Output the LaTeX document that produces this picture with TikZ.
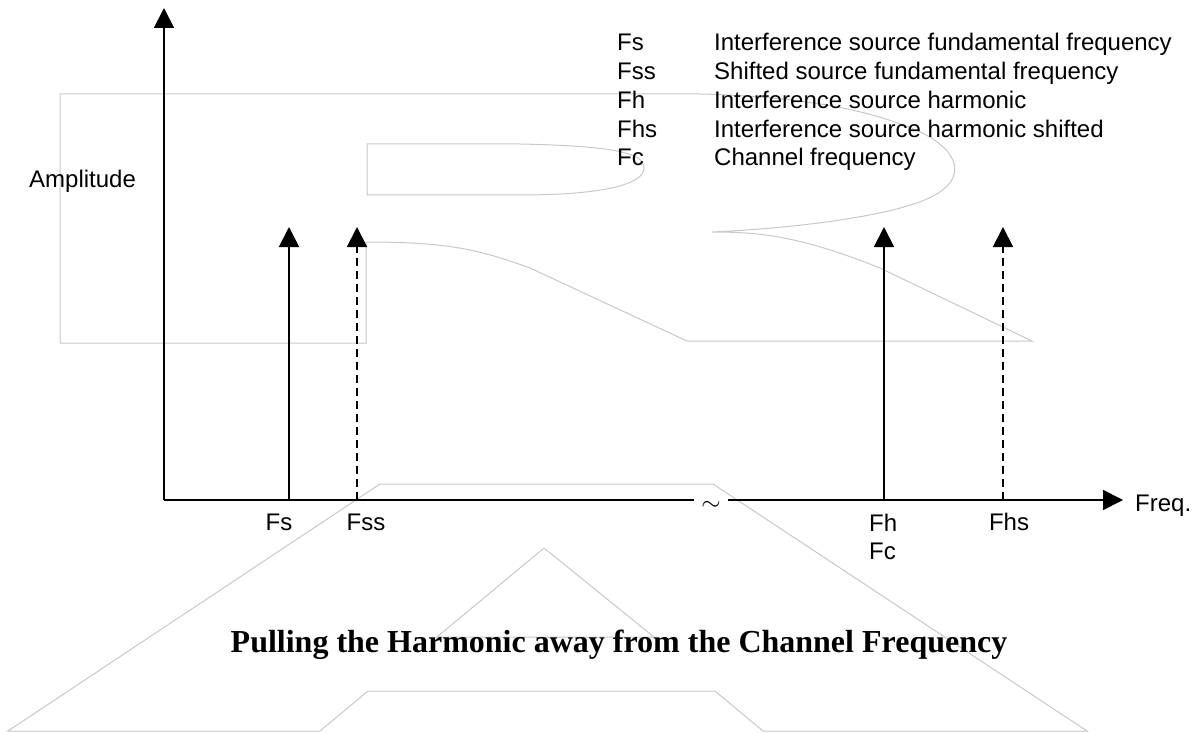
\documentclass[tikz,border=0pt]{standalone}
\usepackage{fontspec}
\setmainfont{Liberation Sans}
\newfontfamily\titlefont{Liberation Serif}
\usetikzlibrary{arrows.meta}
\begin{document}
\begin{tikzpicture}[x=1pt,y=-1pt,
  wm/.style={draw={rgb,255:red,200;green,200;blue,200},line width=1pt,line join=miter},
  axis/.style={line width=1.8pt,-{Triangle[length=20pt,width=20pt]}},
  plain/.style={line width=1.8pt},
  stem/.style={line width=1.8pt,-{Triangle[length=20pt,width=20pt]}},
  dstem/.style={line width=1.8pt,dash pattern=on 8pt off 5pt,-{Triangle[length=20pt,width=20pt]}},
  lbl/.style={inner sep=0pt,font=\fontsize{24}{28}\selectfont},
  ttl/.style={inner sep=0pt,font=\titlefont\bfseries\fontsize{32}{38}\selectfont}]
\useasboundingbox (0,0) rectangle (1203,733);
% watermark R
\draw[wm] (60,94) -- (60,343) -- (366,343) -- (366,242)
  .. controls (450,242) and (480,250) .. (530,268) -- (687,341) -- (1032,341)
  -- (880,268) .. controls (800,236) and (760,232) .. (712,232)
  .. controls (800,228) and (900,215) .. (935,195)
  .. controls (975,172) and (950,140) .. (900,124)
  .. controls (850,105) and (780,96) .. (700,94) -- cycle;
\draw[wm] (367,144) -- (520,144) .. controls (610,146) and (644,152) .. (644,168)
  .. controls (644,185) and (600,195) .. (520,195) -- (367,195) -- cycle;
% watermark A
\draw[wm] (380,484) -- (713,484) -- (1087,731) -- (763,731) -- (715,691) -- (368,691)
  -- (320,731) -- (8,731) -- cycle;
\draw[wm] (544,548) -- (654,637) -- (437,637) -- cycle;
% axes
\coordinate (o) at (164,500);
\coordinate (ytop) at (164,8);
\coordinate (brk1) at (694,500);
\coordinate (brk2) at (728,500);
\coordinate (xend) at (1123,500);
\draw[axis] (o) -- (ytop);
\draw[plain] (o) -- (brk1);
\draw[axis] (brk2) -- (xend);
\node[inner sep=0pt,font=\fontsize{24}{28}\selectfont] (tilde) at (711,506) {$\sim$};
% stems
\coordinate (fsb) at (289,500); \coordinate (fst) at (289,227);
\coordinate (fssb) at (357,500); \coordinate (fsst) at (357,227);
\coordinate (fhb) at (884,500); \coordinate (fht) at (884,227);
\coordinate (fhsb) at (1003,500); \coordinate (fhst) at (1003,227);
\draw[stem] (fsb) -- (fst);
\draw[dstem] (fssb) -- (fsst);
\draw[stem] (fhb) -- (fht);
\draw[dstem] (fhsb) -- (fhst);
% axis labels
\node[lbl,anchor=base west] (amp) at (29,188) {Amplitude};
\node[lbl,anchor=base west] (freq) at (1135,511) {Freq.};
\node[lbl,anchor=base] (lfs) at (279,530) {Fs};
\node[lbl,anchor=base] (lfss) at (366,530) {Fss};
\node[lbl,anchor=base west] (lfh) at (869,531) {Fh};
\node[lbl,anchor=base west] (lfc) at (869,559) {Fc};
\node[lbl,anchor=base] (lfhs) at (1009,530) {Fhs};
% legend
\node[lbl,anchor=base west] (k1) at (617,51) {Fs};
\node[lbl,anchor=base west] (k2) at (617,79.75) {Fss};
\node[lbl,anchor=base west] (k3) at (617,108.5) {Fh};
\node[lbl,anchor=base west] (k4) at (617,137.25) {Fhs};
\node[lbl,anchor=base west] (k5) at (617,166) {Fc};
\node[lbl,anchor=base west] (d1) at (714,51) {Interference source fundamental frequency};
\node[lbl,anchor=base west] (d2) at (714,79.75) {Shifted source fundamental frequency};
\node[lbl,anchor=base west] (d3) at (714,108.5) {Interference source harmonic};
\node[lbl,anchor=base west] (d4) at (714,137.25) {Interference source harmonic shifted};
\node[lbl,anchor=base west] (d5) at (714,166) {Channel frequency};
% title
\node[ttl,anchor=base] (title) at (619,652) {Pulling the Harmonic away from the Channel Frequency};
\end{tikzpicture}
\end{document}
